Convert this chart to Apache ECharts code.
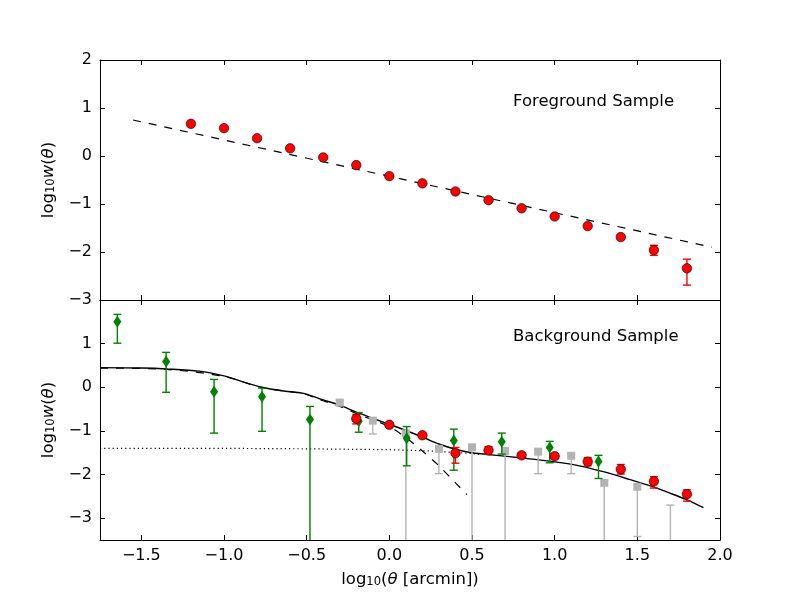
<!DOCTYPE html>
<html>
<head>
<meta charset="utf-8">
<script src="https://cdn.jsdelivr.net/npm/echarts@6/dist/echarts.min.js"></script>
<style>html,body{margin:0;padding:0;background:#fff}#c{width:800px;height:600px}</style>
</head>
<body>
<div id="c"></div>
<script>
// ---------- DATA ----------
const xTicks = [-1.5, -1.0, -0.5, 0.0, 0.5, 1.0, 1.5, 2.0];
const yTicksTop = [-3, -2, -1, 0, 1, 2];
const yTicksBottom = [-3, -2, -1, 0, 1];

// Foreground sample (top panel)
const fgX  = [-1.2, -1.0, -0.8, -0.6, -0.4, -0.2, 0.0, 0.2, 0.4, 0.6, 0.8, 1.0, 1.2, 1.4, 1.6, 1.8];
const fgY  = [0.67, 0.58, 0.37, 0.16, -0.03, -0.19, -0.42, -0.57, -0.74, -0.92, -1.09, -1.26, -1.46, -1.69, -1.96, -2.34];
const fgLo = [0.65, 0.56, 0.35, 0.14, -0.05, -0.21, -0.44, -0.59, -0.76, -0.94, -1.11, -1.29, -1.49, -1.74, -2.07, -2.69];
const fgHi = [0.69, 0.60, 0.39, 0.18, -0.01, -0.17, -0.40, -0.55, -0.72, -0.90, -1.07, -1.23, -1.43, -1.64, -1.86, -2.15];
const fitX = [-1.55, 1.95];
const fitY = [0.75, -1.90];

// Background sample (bottom panel) - red circles
const bgX  = [-0.2, 0.0, 0.2, 0.4, 0.6, 0.8, 1.0, 1.2, 1.4, 1.6, 1.8];
const bgY  = [-0.72, -0.86, -1.10, -1.51, -1.445, -1.56, -1.58, -1.705, -1.88, -2.155, -2.45];
const bgLo = [-0.84, -0.90, -1.14, -1.74, -1.54, -1.61, -1.64, -1.80, -1.99, -2.31, -2.61];
const bgHi = [-0.62, -0.82, -1.06, -1.38, -1.36, -1.51, -1.52, -1.61, -1.77, -2.05, -2.35];

// green diamonds (null = error bar extends below the axis)
const gX  = [-1.645, -1.35, -1.06, -0.77, -0.48, -0.185, 0.105, 0.39, 0.68, 0.97, 1.265];
const gY  = [1.50, 0.59, -0.10, -0.215, -0.74, -0.78, -1.17, -1.22, -1.25, -1.38, -1.70];
const gLo = [1.01, -0.115, -1.05, -1.01, null, -1.03, -1.80, -1.90, -1.53, -1.73, -2.09];
const gHi = [1.67, 0.80, 0.18, -0.02, -0.44, -0.58, -0.90, -0.96, -1.05, -1.24, -1.56];

// grey squares (null value = below axis; null lower = error bar extends below axis)
const grX  = [-0.3, -0.1, 0.1, 0.3, 0.5, 0.7, 0.9, 1.1, 1.3, 1.5, 1.7];
const grY  = [-0.35, -0.765, -1.055, -1.41, -1.375, -1.46, -1.475, -1.57, -2.19, -2.28, null];
const grLo = [-0.42, -1.07, null, -1.98, null, null, -1.98, -1.98, null, -3.42, null];
const grHi = [-0.30, -0.70, -1.00, -1.36, -1.33, -1.41, -1.43, -1.52, -2.15, -2.24, -2.70];

// model curves
const solidX = [-1.75, -1.5, -1.35, -1.15, -1.0, -0.89, -0.77, -0.65, -0.52, -0.4, -0.3, -0.2, -0.1, 0.0, 0.1, 0.2, 0.3, 0.4, 0.5, 0.65, 0.8, 1.0, 1.15, 1.3, 1.45, 1.6, 1.7, 1.8, 1.9];
const solidY = [0.45, 0.44, 0.42, 0.37, 0.26, 0.13, 0.0, -0.08, -0.14, -0.29, -0.41, -0.57, -0.71, -0.85, -0.99, -1.14, -1.30, -1.42, -1.50, -1.56, -1.62, -1.71, -1.80, -1.94, -2.11, -2.29, -2.43, -2.58, -2.76];
const dashX = [-1.75, -1.35, -1.0, -0.77, -0.52, -0.4, -0.3, -0.2, -0.1, 0.0, 0.1, 0.2, 0.3, 0.4, 0.47];
const dashY = [0.44, 0.41, 0.25, -0.01, -0.15, -0.31, -0.44, -0.60, -0.75, -0.90, -1.15, -1.46, -1.80, -2.19, -2.46];
const dotX = [-1.75, -1.0, -0.5, 0.0, 0.25, 0.5, 0.55];
const dotY = [-1.40, -1.40, -1.41, -1.43, -1.46, -1.52, -1.54];

// ---------- CHART ----------
const FONT = 'DejaVu Sans';
const zip = (a, b) => a.map((v, i) => [v, b[i]]);
const fmt = v => (v < 0 ? '\u2212' : '') + Math.abs(v);
const fmt1 = v => (v < 0 ? '\u2212' : '') + Math.abs(v).toFixed(1);

function xAx(grid, pos, labels) {
  return {
    type: 'value', gridIndex: grid, position: pos, min: -1.75, max: 2.0,
    axisLine: { show: true, onZero: false, lineStyle: { color: '#000', width: 1 } },
    axisTick: { show: true, inside: true, length: 5, customValues: xTicks, lineStyle: { color: '#000' } },
    axisLabel: { show: labels, customValues: xTicks, formatter: fmt1, color: '#000', fontFamily: FONT, fontSize: 16, margin: 8 },
    splitLine: { show: false }
  };
}
function yAx(grid, pos, min, max, ticks, labels) {
  return {
    type: 'value', gridIndex: grid, position: pos, min: min, max: max,
    axisLine: { show: true, onZero: false, lineStyle: { color: '#000', width: 1 } },
    axisTick: { show: true, inside: true, length: 5, customValues: ticks, lineStyle: { color: '#000' } },
    axisLabel: { show: labels, customValues: ticks, formatter: fmt, color: '#000', fontFamily: FONT, fontSize: 16, margin: 8 },
    splitLine: { show: false }
  };
}

function errSeries(xs, lo, hi, color, xi, yi, z) {
  return {
    type: 'custom', xAxisIndex: xi, yAxisIndex: yi, z: z, silent: true,
    data: xs.map((x, i) => [x, i]),
    renderItem: function (params, api) {
      const i = params.dataIndex;
      const cs = params.coordSys;
      const top = cs.y, bottom = cs.y + cs.height;
      const x = xs[i];
      const p = api.coord([x, hi[i]]);
      const cx = p[0];
      let yHi = p[1], capHi = true;
      let yLo, capLo = true;
      if (lo[i] === null) { yLo = bottom; capLo = false; }
      else { yLo = api.coord([x, lo[i]])[1]; }
      if (yLo > bottom) { yLo = bottom; capLo = false; }
      if (yHi < top) { yHi = top; capHi = false; }
      const st = { stroke: color, lineWidth: 1.4 };
      const ch = [{ type: 'line', shape: { x1: cx, y1: yHi, x2: cx, y2: yLo }, style: st }];
      if (capHi) ch.push({ type: 'line', shape: { x1: cx - 4, y1: yHi, x2: cx + 4, y2: yHi }, style: st });
      if (capLo) ch.push({ type: 'line', shape: { x1: cx - 4, y1: yLo, x2: cx + 4, y2: yLo }, style: st });
      return { type: 'group', children: ch };
    }
  };
}

const RED = '#ff0000', GREEN = '#008000', GREY = '#b3b3b3';

const richLbl = {
  a: { fontFamily: FONT, fontSize: 16.5, fill: '#000', verticalAlign: 'middle' },
  s: { fontFamily: FONT, fontSize: 11.5, fill: '#000', verticalAlign: 'bottom', lineHeight: 14, padding: [6, 0, 0, 0] },
  b: { fontFamily: FONT, fontSize: 16.5, fontStyle: 'italic', fill: '#000', verticalAlign: 'middle' }
};

const chart = echarts.init(document.getElementById('c'), null, { renderer: 'canvas' });
chart.setOption({
  backgroundColor: '#fff',
  animation: false,
  grid: [
    { left: 100, top: 60, width: 620, height: 240 },
    { left: 100, top: 300, width: 620, height: 240 }
  ],
  xAxis: [
    xAx(0, 'bottom', false),
    xAx(0, 'top', false),
    xAx(1, 'bottom', true),
    xAx(1, 'top', false)
  ],
  yAxis: [
    yAx(0, 'left', -3, 2, yTicksTop, true),
    yAx(0, 'right', -3, 2, yTicksTop, false),
    yAx(1, 'left', -3.5, 2, yTicksBottom, true),
    yAx(1, 'right', -3.5, 2, yTicksBottom, false)
  ],
  series: [
    // top panel
    { type: 'line', xAxisIndex: 0, yAxisIndex: 0, data: zip(fitX, fitY), symbol: 'none', z: 2,
      lineStyle: { color: '#000', width: 1.2, type: [8, 8] } },
    errSeries(fgX, fgLo, fgHi, RED, 0, 0, 4),
    { type: 'scatter', xAxisIndex: 0, yAxisIndex: 0, data: zip(fgX, fgY), symbol: 'circle', symbolSize: 9.5, z: 5,
      itemStyle: { color: RED, borderColor: '#000', borderWidth: 0.6, opacity: 1 } },
    // bottom panel curves
    { type: 'line', xAxisIndex: 2, yAxisIndex: 2, data: zip(dotX, dotY), symbol: 'none', z: 2,
      lineStyle: { color: '#000', width: 1.2, type: [1.2, 3] } },
    { type: 'line', xAxisIndex: 2, yAxisIndex: 2, data: zip(dashX, dashY), symbol: 'none', smooth: 0.3, z: 2,
      lineStyle: { color: '#000', width: 1.2, type: [8, 8] } },
    { type: 'line', xAxisIndex: 2, yAxisIndex: 2, data: zip(solidX, solidY), symbol: 'none', smooth: 0.3, z: 2,
      lineStyle: { color: '#000', width: 1.4 } },
    // grey squares
    errSeries(grX, grLo, grHi, GREY, 2, 2, 3),
    { type: 'scatter', xAxisIndex: 2, yAxisIndex: 2, data: zip(grX, grY), symbol: 'rect', symbolSize: 8, z: 3,
      itemStyle: { color: GREY, opacity: 1 } },
    // green diamonds
    errSeries(gX, gLo, gHi, GREEN, 2, 2, 4),
    { type: 'scatter', xAxisIndex: 2, yAxisIndex: 2, data: zip(gX, gY), symbol: 'diamond', symbolSize: [8, 12], z: 4,
      itemStyle: { color: GREEN, opacity: 1 } },
    // red circles
    errSeries(bgX, bgLo, bgHi, RED, 2, 2, 5),
    { type: 'scatter', xAxisIndex: 2, yAxisIndex: 2, data: zip(bgX, bgY), symbol: 'circle', symbolSize: 9.5, z: 6,
      itemStyle: { color: RED, borderColor: '#000', borderWidth: 0.6, opacity: 1 } }
  ],
  graphic: [
    { type: 'text', left: 513, top: 93, style: { text: 'Foreground Sample', fill: '#000', font: '16.5px "DejaVu Sans"' } },
    { type: 'text', left: 513, top: 328, style: { text: 'Background Sample', fill: '#000', font: '16.5px "DejaVu Sans"' } },
    { type: 'text', x: 49, y: 180, rotation: Math.PI / 2,
      style: { text: '{a|log}{s|10}{b|w}{a|(}{b|θ}{a|)}', align: 'center', verticalAlign: 'middle', rich: richLbl } },
    { type: 'text', x: 49, y: 420, rotation: Math.PI / 2,
      style: { text: '{a|log}{s|10}{b|w}{a|(}{b|θ}{a|)}', align: 'center', verticalAlign: 'middle', rich: richLbl } },
    { type: 'text', x: 410, y: 580,
      style: { text: '{a|log}{s|10}{a|(}{b|θ}{a| [arcmin])}', align: 'center', verticalAlign: 'middle', rich: richLbl } }
  ]
});
</script>
</body>
</html>
